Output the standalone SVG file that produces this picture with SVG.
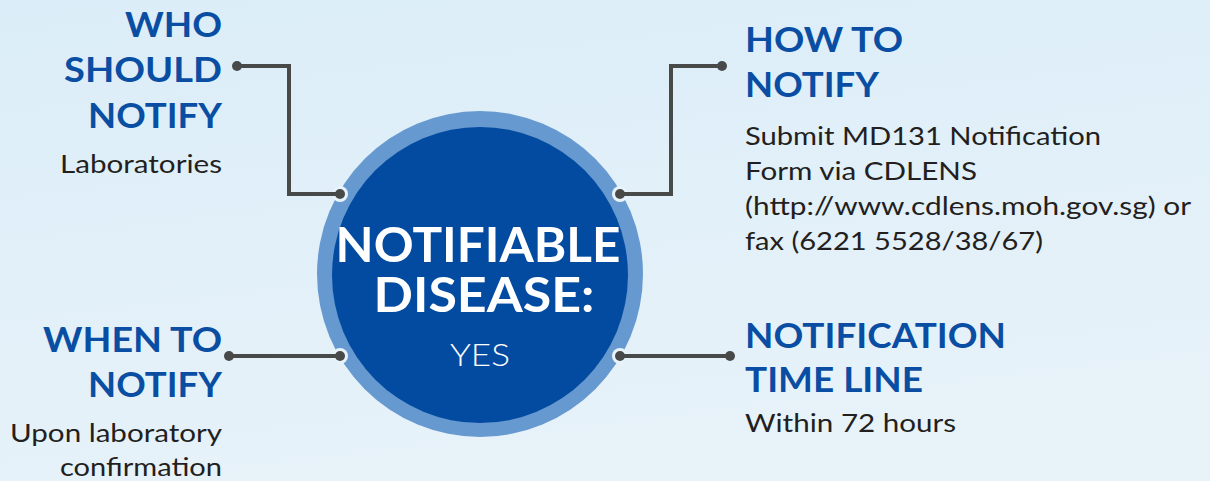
<svg xmlns="http://www.w3.org/2000/svg" width="1210" height="481" viewBox="0 0 1210 481">
  <defs>
    <linearGradient id="bg" x1="0" y1="0" x2="0.3" y2="1">
      <stop offset="0" stop-color="#dbedf8"/>
      <stop offset="1" stop-color="#e7f2f9"/>
    </linearGradient>
    <style>
      .head { font-family: Lato, "Open Sans", sans-serif; font-weight: 700; font-size: 34px; fill: #0a4ea3; }
      .body { font-family: Lato, "Open Sans", sans-serif; font-weight: 400; font-size: 25px; fill: #231f20; }
      .title { font-family: Lato, "Open Sans", sans-serif; font-weight: 700; font-size: 42px; fill: #ffffff; text-anchor: middle; }
      .left { text-anchor: end; }
      .wire { fill: none; stroke: #484a4a; stroke-width: 4; stroke-linejoin: miter; }
      .dot { fill: #484a4a; }
      .halo { fill: #e8f2fa; }
    </style>
  </defs>

  <rect width="1210" height="481" fill="url(#bg)"/>

  <!-- central disc -->
  <g id="center">
    <circle cx="480" cy="274" r="163" fill="#6699cf"/>
    <circle cx="480" cy="275" r="148" fill="#034ba1"/>
    <!-- title lines are stretched vertically to keep the tight leading -->
    <text class="title" transform="translate(478 262) scale(1 1.12)" x="0" y="0" textLength="285" lengthAdjust="spacingAndGlyphs">NOTIFIABLE</text>
    <text class="title" transform="translate(484 312) scale(1 1.12)" x="0" y="0" textLength="221" lengthAdjust="spacingAndGlyphs">DISEASE:</text>
    <text x="480" y="366" text-anchor="middle" font-family="Lato, 'Open Sans', sans-serif" font-weight="300" font-size="32" fill="#ffffff" textLength="60" lengthAdjust="spacingAndGlyphs">YES</text>
  </g>

  <!-- who should notify -->
  <g id="who">
    <text class="head left" x="222" y="37" textLength="97" lengthAdjust="spacingAndGlyphs">WHO</text>
    <text class="head left" x="222" y="82" textLength="158" lengthAdjust="spacingAndGlyphs">SHOULD</text>
    <text class="head left" x="222" y="128" textLength="134" lengthAdjust="spacingAndGlyphs">NOTIFY</text>
    <text class="body left" x="222" y="173" textLength="162" lengthAdjust="spacingAndGlyphs">Laboratories</text>
  </g>

  <!-- when to notify -->
  <g id="when">
    <text class="head left" x="222" y="352" textLength="179" lengthAdjust="spacingAndGlyphs">WHEN TO</text>
    <text class="head left" x="222" y="397" textLength="134" lengthAdjust="spacingAndGlyphs">NOTIFY</text>
    <text class="body left" x="222" y="442" textLength="212" lengthAdjust="spacingAndGlyphs">Upon laboratory</text>
    <text class="body left" x="222" y="476" textLength="162" lengthAdjust="spacingAndGlyphs">confirmation</text>
  </g>

  <!-- how to notify -->
  <g id="how">
    <text class="head" x="745" y="52" textLength="158" lengthAdjust="spacingAndGlyphs">HOW TO</text>
    <text class="head" x="745" y="97" textLength="134" lengthAdjust="spacingAndGlyphs">NOTIFY</text>
    <text class="body" x="745" y="145" textLength="356" lengthAdjust="spacingAndGlyphs">Submit MD131 Notification</text>
    <text class="body" x="745" y="180" textLength="232" lengthAdjust="spacingAndGlyphs">Form via CDLENS</text>
    <text class="body" x="745" y="215" textLength="446" lengthAdjust="spacingAndGlyphs">(http://www.cdlens.moh.gov.sg) or</text>
    <text class="body" x="745" y="250" textLength="298" lengthAdjust="spacingAndGlyphs">fax (6221 5528/38/67)</text>
  </g>

  <!-- notification time line -->
  <g id="timeline">
    <text class="head" x="745" y="348" textLength="261" lengthAdjust="spacingAndGlyphs">NOTIFICATION</text>
    <text class="head" x="745" y="392" textLength="178" lengthAdjust="spacingAndGlyphs">TIME LINE</text>
    <text class="body" x="745" y="432" textLength="211" lengthAdjust="spacingAndGlyphs">Within 72 hours</text>
  </g>

  <!-- connectors from the disc rim to each label -->
  <g id="connectors">
    <circle class="halo" cx="340" cy="194" r="8"/>
    <circle class="halo" cx="340" cy="356" r="8"/>
    <circle class="halo" cx="620" cy="194" r="8"/>
    <circle class="halo" cx="620" cy="356" r="8"/>

    <polyline class="wire" points="237,66 289,66 289,194 340,194"/>
    <line class="wire" x1="229" y1="356" x2="340" y2="356"/>
    <polyline class="wire" points="722,66 671,66 671,194 620,194"/>
    <line class="wire" x1="620" y1="356" x2="730" y2="356"/>

    <circle class="dot" cx="237" cy="66" r="5"/>
    <circle class="dot" cx="340" cy="194" r="5"/>
    <circle class="dot" cx="229" cy="356" r="5"/>
    <circle class="dot" cx="340" cy="356" r="5"/>
    <circle class="dot" cx="722" cy="66" r="5"/>
    <circle class="dot" cx="620" cy="194" r="5"/>
    <circle class="dot" cx="620" cy="356" r="5"/>
    <circle class="dot" cx="730" cy="356" r="5"/>
  </g>
</svg>
